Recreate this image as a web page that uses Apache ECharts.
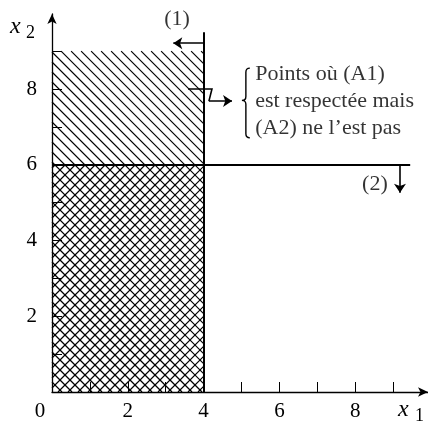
<!DOCTYPE html>
<html>
<head>
<meta charset="utf-8">
<script src="https://cdn.jsdelivr.net/npm/echarts@6/dist/echarts.min.js"></script>
<style>
html,body{margin:0;padding:0;background:#fff;}
#c{width:428px;height:428px;}
</style>
</head>
<body>
<div id="c"></div>
<script>
// ---- data ----
const xTicks = [0, 1, 2, 3, 4, 5, 6, 7, 8, 9];
const xLabels = [0, 2, 4, 6, 8];
const yTicks = [0, 1, 2, 3, 4, 5, 6, 7, 8, 9];
const yLabels = [2, 4, 6, 8];
const regionA1 = [0, 0, 4, 9];      // x0, y0, x1, y1 : (A1) satisfied (single hatch)
const regionBoth = [0, 0, 4, 6];    // both constraints (cross hatch)
const constraint1 = [[4, 0], [4, 9.5]];
const constraint2 = [[0, 6], [9.45, 6]];
const arrow1 = [[4, 9.21], [3.2, 9.21]];
const arrow2 = [[9.18, 6], [9.18, 5.26]];
const zigzag = [[3.59, 8.0], [4.22, 8.0], [4.14, 7.68]];
const zigArrow = [[4.14, 7.68], [4.75, 7.68]];
const braceBox = [5.01, 8.55, 5.22, 6.71, 7.70]; // xLeft, yTop, xRight, yBottom, yMid
const label1 = [3.30, 9.85];
const label2 = [8.52, 5.48];
const noteAt = [5.36, 7.68];
const noteText = 'Points où (A1)\nest respectée mais\n(A2) ne l’est pas';

const FONT = 'Liberation Serif';
const HATCH_STEP = 10;

// hatch lines clipped to a pixel rectangle; dir 'back' = "\" , 'fwd' = "/"
function hatchLines(X0, Y0, X1, Y1, dir, step) {
  const out = [];
  const lineStyle = { stroke: '#000', lineWidth: 1.15 };
  if (dir === 'back') {
    const cMin = Math.floor((X0 - Y1) / step) * step, cMax = X1 - Y0;
    for (let c = cMin; c <= cMax; c += step) {
      const xs = Math.max(X0, Y0 + c), xe = Math.min(X1, Y1 + c);
      if (xe > xs) out.push({ type: 'line', shape: { x1: xs, y1: xs - c, x2: xe, y2: xe - c }, style: lineStyle });
    }
  } else {
    const cMin = Math.floor((X0 + Y0) / step) * step, cMax = X1 + Y1;
    for (let c = cMin; c <= cMax; c += step) {
      const xs = Math.max(X0, c - Y1), xe = Math.min(X1, c - Y0);
      if (xe > xs) out.push({ type: 'line', shape: { x1: xs, y1: c - xs, x2: xe, y2: c - xe }, style: lineStyle });
    }
  }
  return out;
}

function rectSeries(region, dir) {
  return {
    type: 'custom',
    data: [region],
    encode: { x: [0, 2], y: [1, 3] },
    z: 1,
    silent: true,
    renderItem: function (params, api) {
      const p0 = api.coord([api.value(0), api.value(3)]);
      const p1 = api.coord([api.value(2), api.value(1)]);
      return { type: 'group', children: hatchLines(p0[0], p0[1], p1[0], p1[1], dir, HATCH_STEP) };
    }
  };
}

const chart = echarts.init(document.getElementById('c'), null, { renderer: 'canvas' });
chart.setOption({
  animation: false,
  backgroundColor: '#fff',
  grid: { left: 52, right: 0, top: 14, bottom: 36, outerBoundsMode: 'none' },
  xAxis: {
    type: 'value', min: 0, max: 9.92,
    splitLine: { show: false },
    axisLine: { show: true, onZero: false, lineStyle: { color: '#000', width: 1.3 }, symbol: ['none', 'arrow'], symbolSize: [7, 10] },
    axisTick: { show: true, inside: true, length: 10, lineStyle: { color: '#000', width: 1 }, customValues: xTicks },
    axisLabel: {
      customValues: xLabels, margin: 9, color: '#000', fontFamily: FONT, fontSize: 21,
      formatter: v => (v === 0 ? '{z|0}' : String(v)),
      rich: { z: { padding: [0, 24, 0, 0], fontFamily: FONT, fontSize: 21, color: '#000' } }
    }
  },
  yAxis: {
    type: 'value', min: 0, max: 9.98,
    splitLine: { show: false },
    axisLine: { show: true, onZero: false, lineStyle: { color: '#000', width: 1.3 }, symbol: ['none', 'arrow'], symbolSize: [7, 10] },
    axisTick: { show: true, inside: true, length: 10, lineStyle: { color: '#000', width: 1 }, customValues: yTicks },
    axisLabel: { customValues: yLabels, margin: 15, color: '#000', fontFamily: FONT, fontSize: 21 }
  },
  graphic: [
    { type: 'text', x: 398, y: 410, style: { text: 'x', font: 'italic 24px "Liberation Serif"', fill: '#000', verticalAlign: 'middle' } },
    { type: 'text', x: 415, y: 416, style: { text: '1', font: '18px "Liberation Serif"', fill: '#000', verticalAlign: 'middle' } },
    { type: 'text', x: 10, y: 27, style: { text: 'x', font: 'italic 24px "Liberation Serif"', fill: '#000', verticalAlign: 'middle' } },
    { type: 'text', x: 26, y: 33, style: { text: '2', font: '18px "Liberation Serif"', fill: '#000', verticalAlign: 'middle' } }
  ],
  series: [
    rectSeries(regionA1, 'back'),
    rectSeries(regionBoth, 'fwd'),
    {
      type: 'lines', coordinateSystem: 'cartesian2d', z: 5, silent: true,
      lineStyle: { color: '#000', width: 2, opacity: 1 },
      symbol: ['none', 'none'],
      data: [{ coords: constraint1 }, { coords: constraint2 }]
    },
    {
      type: 'lines', coordinateSystem: 'cartesian2d', z: 5, silent: true,
      lineStyle: { color: '#000', width: 1.6, opacity: 1 },
      symbol: ['none', 'arrow'], symbolSize: 9,
      data: [{ coords: arrow1 }, { coords: arrow2 }, { coords: zigArrow }]
    },
    {
      type: 'lines', coordinateSystem: 'cartesian2d', polyline: true, z: 5, silent: true,
      lineStyle: { color: '#000', width: 1.6, opacity: 1 },
      data: [{ coords: zigzag }]
    },
    {
      type: 'custom', z: 5, silent: true,
      data: [braceBox],
      encode: { x: [0, 2], y: [1, 3] },
      renderItem: function (params, api) {
        const tl = api.coord([api.value(0), api.value(1)]);
        const br = api.coord([api.value(2), api.value(3)]);
        const ym = api.coord([api.value(0), api.value(4)])[1];
        const xl = tl[0], xr = br[0], yt = tl[1], yb = br[1];
        const xm = (xl + xr) / 2, r = (xr - xl) / 2;
        const d = `M${xr},${yt} Q${xm},${yt} ${xm},${yt + r} L${xm},${ym - r} Q${xm},${ym} ${xl},${ym} Q${xm},${ym} ${xm},${ym + r} L${xm},${yb - r} Q${xm},${yb} ${xr},${yb}`;
        return { type: 'path', shape: { pathData: d }, style: { fill: null, stroke: '#000', lineWidth: 1.4 } };
      }
    },
    {
      type: 'scatter', z: 6, silent: true, symbolSize: 0,
      label: { show: true, color: '#000', fontFamily: FONT },
      data: [
        { value: label1, label: { formatter: '(1)', position: 'inside', fontSize: 22 } },
        { value: label2, label: { formatter: '(2)', position: 'inside', fontSize: 22 } },
        { value: noteAt, label: { formatter: noteText, position: 'right', distance: 0, fontSize: 22, lineHeight: 27, align: 'left' } }
      ]
    }
  ]
});
</script>
</body>
</html>
